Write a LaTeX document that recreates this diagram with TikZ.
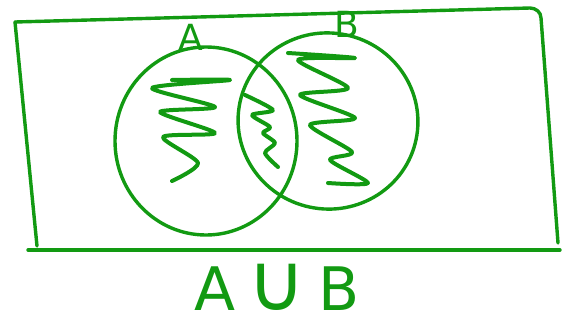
\documentclass[tikz,border=0pt]{standalone}
\usepackage{fontspec}
\usepackage{tikz}
\usetikzlibrary{positioning,calc}
\newfontfamily\handfont{DejaVu Sans}
\definecolor{penGreen}{HTML}{129A12}
\tikzset{
  pen/.style={draw=penGreen, line width=1.7pt, line cap=round, line join=round},
  shade/.style={pen, line width=2pt, smooth, tension=0.45},
  setlabel/.style={text=penGreen, font=\handfont\fontsize{#1}{#1}\selectfont, inner sep=0pt},
  setlabel/.default=16,
}

\begin{document}
\begin{tikzpicture}[x=0.5pt, y=-0.5pt]
\useasboundingbox (0,0) rectangle (567,327);

% Universe (hand drawn box)
\draw[pen] (15,22) -- (530,8) to[out=0, in=90] (541,18) -- (558,243);
\draw[pen] (15,22) -- (37,246);
\draw[pen] (28,250) -- (560,250);

% Sets
\draw[pen] (206,141) ellipse[x radius=91, y radius=94];
\draw[pen, rotate around={-12:(328,121)}] (328,121) ellipse[x radius=90, y radius=88];

% Shading of A
\draw[shade] plot coordinates {(172,80) (230,80) (152,88) (215,107) (160,112)
  (215,133) (163,137) (198,163) (172,181)};
% Shading of A and B
\draw[shade] plot coordinates {(245,95) (273,110) (252,115) (270,127) (263,133)
  (275,143) (265,153) (278,167)};
% Shading of B
\draw[shade] plot coordinates {(288,53) (355,58) (298,60) (348,88) (300,95)
  (355,118) (310,125) (352,152) (330,160) (368,183) (328,183)};

% Labels
\node[setlabel=18] (labA) at (191,37) {A};
\node[setlabel=18] (labB) at (347,24) {B};
\node[setlabel=30] (union) at (277,287)
  {A\hspace{6pt}{\fontsize{40}{40}\selectfont ∪}\hspace{6pt}B};
\end{tikzpicture}
\end{document}
